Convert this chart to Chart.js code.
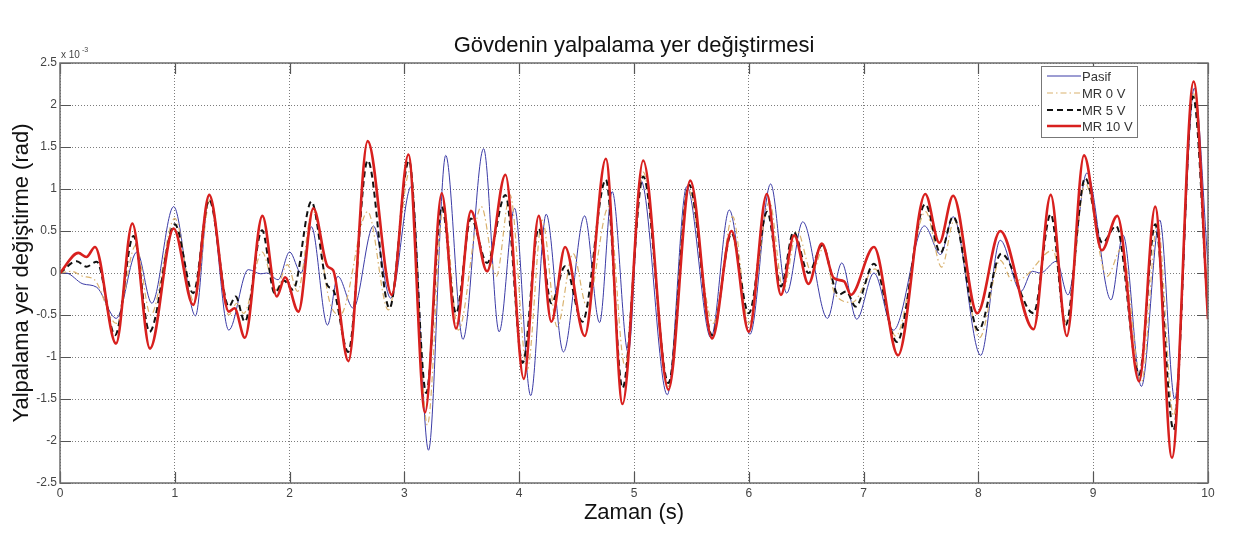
<!DOCTYPE html>
<html><head><meta charset="utf-8">
<script src="https://cdn.jsdelivr.net/npm/chart.js@4/dist/chart.umd.min.js"></script>
<style>html,body{margin:0;padding:0;background:#fff}canvas{display:block}</style>
</head><body>
<canvas id="c" width="1239" height="533"></canvas>
<script>
// values in units of 1e-3 rad
const titleText = 'Gövdenin yalpalama yer değiştirmesi';
const xLabel = 'Zaman (s)';
const yLabel = 'Yalpalama yer değiştirme (rad)';
const seriesNames = ['Pasif', 'MR 0 V', 'MR 5 V', 'MR 10 V'];
const xTicks = [0,1,2,3,4,5,6,7,8,9,10];
const yTicks = [-2.5,-2,-1.5,-1,-0.5,0,0.5,1,1.5,2,2.5];

const pasifT = [0,0.05,0.2,0.32,0.49,0.67,0.80,0.99,1.18,1.30,1.47,1.64,1.75,1.80,1.9,2.0,2.1,2.19,2.33,2.42,2.555,2.73,2.88,3.06,3.21,3.36,3.51,3.69,3.825,3.96,4.10,4.235,4.385,4.57,4.70,4.81,4.95,5.06,5.29,5.46,5.67,5.83,6.01,6.19,6.33,6.47,6.685,6.81,6.94,7.09,7.26,7.53,7.67,7.78,8.02,8.19,8.37,8.47,8.54,8.68,8.78,8.945,9.155,9.26,9.42,9.58,9.71,9.88,10.0];
const pasifY = [0,0,-0.13,-0.17,-0.54,0.25,-0.36,0.79,-0.51,0.93,-0.68,0.04,-0.01,0.0,-0.08,0.25,0.0,0.55,-0.62,-0.04,-0.42,0.56,-0.3,1.03,-2.11,1.40,-0.79,1.48,-0.70,0.77,-1.46,0.70,-0.94,0.68,-0.59,0.97,-0.95,1.1,-1.45,1.03,-0.77,0.75,-0.73,1.06,-0.24,0.61,-0.54,0.12,-0.55,0.0,-0.68,0.56,0.22,0.67,-0.98,0.39,-0.22,0.02,0.0,0.14,-0.26,1.19,-0.32,0.45,-1.35,0.63,-1.50,2.20,0.1];

const mr0T = [0,0.1,0.2,0.3,0.49,0.66,0.79,1.0,1.17,1.31,1.47,1.54,1.60,1.76,1.88,1.98,2.07,2.2,2.35,2.44,2.68,2.86,3.05,3.20,3.34,3.47,3.67,3.80,3.92,4.07,4.2,4.33,4.47,4.59,4.78,4.92,5.08,5.30,5.47,5.69,5.86,6.0,6.18,6.3,6.42,6.55,6.65,6.75,6.9,7.1,7.28,7.54,7.68,7.79,8.01,8.19,8.3,8.4,8.65,8.77,8.93,9.12,9.25,9.42,9.56,9.70,9.87,10.0];
const mr0Y = [0,0.02,-0.04,-0.08,-0.6,0.33,-0.5,0.65,-0.35,0.88,-0.5,-0.36,-0.48,0.25,-0.2,0.1,-0.22,0.75,-0.35,-0.5,0.73,-0.44,1.22,-1.81,0.79,-0.68,0.79,-0.04,0.93,-1.15,0.63,-0.64,0.23,-0.4,0.79,-1.1,1.2,-1.35,1.0,-0.6,0.67,-0.6,0.85,-0.2,0.5,0.0,0.3,-0.25,-0.35,0.05,-0.75,0.73,0.07,0.63,-0.77,0.15,-0.1,-0.05,0.27,-0.6,1.07,-0.04,0.3,-1.3,0.6,-1.7,2.15,-0.3];

const mr5T = [0,0.145,0.23,0.32,0.48,0.64,0.78,1.0,1.16,1.30,1.47,1.53,1.61,1.76,1.87,1.95,2.03,2.19,2.33,2.38,2.51,2.68,2.87,3.04,3.19,3.325,3.45,3.58,3.72,3.88,4.03,4.17,4.28,4.40,4.55,4.755,4.90,5.08,5.30,5.48,5.68,5.85,6.0,6.16,6.28,6.39,6.52,6.64,6.78,6.85,6.93,7.09,7.29,7.537,7.67,7.78,8.0,8.2,8.48,8.63,8.76,8.93,9.08,9.2,9.40,9.54,9.70,9.87,10.0];
const mr5Y = [0,0.14,0.075,0.135,-0.74,0.44,-0.70,0.58,-0.24,0.87,-0.40,-0.28,-0.58,0.51,-0.24,-0.09,-0.2,0.85,-0.15,-0.2,-0.94,1.34,-0.42,1.34,-1.43,0.79,-0.48,0.65,0.12,0.93,-1.07,0.53,-0.36,0.08,-0.58,1.11,-1.37,1.15,-1.31,1.05,-0.74,0.47,-0.48,0.73,-0.16,0.49,0.0,0.33,-0.26,-0.22,-0.40,0.11,-0.82,0.82,0.24,0.67,-0.68,0.23,-0.48,0.70,-0.62,1.13,0.36,0.56,-1.21,0.58,-1.87,2.10,-0.5];

const mr10T = [0,0.16,0.23,0.305,0.488,0.63,0.784,0.99,1.16,1.30,1.47,1.52,1.61,1.763,1.888,1.96,2.077,2.207,2.33,2.38,2.512,2.68,2.89,3.035,3.18,3.325,3.45,3.58,3.72,3.88,4.04,4.17,4.28,4.40,4.57,4.755,4.90,5.08,5.30,5.49,5.68,5.85,6.0,6.157,6.28,6.395,6.52,6.636,6.74,6.83,6.89,7.09,7.30,7.537,7.66,7.78,7.99,8.19,8.48,8.63,8.77,8.92,9.075,9.21,9.40,9.54,9.686,9.875,10.0];
const mr10Y = [0,0.24,0.19,0.31,-0.84,0.59,-0.90,0.53,-0.38,0.93,-0.46,-0.42,-0.77,0.68,-0.28,-0.05,-0.46,0.77,0.08,0.03,-1.05,1.57,-0.26,1.41,-1.66,0.95,-0.66,0.74,0.02,1.17,-1.26,0.68,-0.58,0.31,-0.75,1.36,-1.56,1.34,-1.39,1.10,-0.78,0.50,-0.70,0.94,-0.26,0.45,-0.13,0.35,-0.06,-0.10,-0.26,0.31,-0.98,0.94,0.36,0.92,-0.48,0.50,-0.67,0.93,-0.75,1.40,0.27,0.68,-1.29,0.79,-2.20,2.28,-0.55];

const pts = (t, y) => t.map((v, i) => ({x: v, y: y[i]}));
const FONT = '"Liberation Sans", Arial, sans-serif';

const frame = {
  id: 'frame',
  beforeDatasetsDraw(chart) {
    const ctx = chart.ctx, a = chart.chartArea;
    const xs = chart.scales.x, ys = chart.scales.y;
    ctx.save();
    ctx.strokeStyle = '#555';
    ctx.lineWidth = 1.2;
    const L = 11;
    ctx.beginPath();
    xTicks.forEach(v => {
      const px = Math.round(xs.getPixelForValue(v)) + 0.5;
      ctx.moveTo(px, a.bottom); ctx.lineTo(px, a.bottom - L);
      ctx.moveTo(px, a.top); ctx.lineTo(px, a.top + L);
    });
    yTicks.forEach(v => {
      const py = Math.round(ys.getPixelForValue(v)) + 0.5;
      ctx.moveTo(a.left, py); ctx.lineTo(a.left + L, py);
      ctx.moveTo(a.right, py); ctx.lineTo(a.right - L, py);
    });
    ctx.stroke();
    ctx.restore();
  },
  afterDatasetsDraw(chart) {
    const ctx = chart.ctx, a = chart.chartArea;
    ctx.save();
    // box
    ctx.strokeStyle = '#6e6e6e';
    ctx.lineWidth = 1.5;
    ctx.strokeRect(a.left, a.top, a.right - a.left, a.bottom - a.top);
    // title
    ctx.fillStyle = '#111';
    ctx.textAlign = 'center';
    ctx.textBaseline = 'middle';
    ctx.font = '22px ' + FONT;
    ctx.fillText(titleText, (a.left + a.right) / 2, 46);
    // x label
    ctx.font = '22px ' + FONT;
    ctx.fillText(xLabel, (a.left + a.right) / 2, 513);
    // y label
    ctx.save();
    ctx.translate(22, (a.top + a.bottom) / 2);
    ctx.rotate(-Math.PI / 2);
    ctx.fillText(yLabel, 0, 0);
    ctx.restore();
    // exponent
    ctx.fillStyle = '#444';
    ctx.textAlign = 'left';
    ctx.font = '10px ' + FONT;
    ctx.fillText('x 10', 61, 55);
    ctx.font = '7px ' + FONT;
    ctx.fillText('-3', 82, 50);
    // legend
    const lx = 1041, ly = 66, lw = 96, lh = 71;
    ctx.fillStyle = '#fff';
    ctx.fillRect(lx, ly, lw, lh);
    ctx.strokeStyle = '#777';
    ctx.lineWidth = 1;
    ctx.strokeRect(lx + 0.5, ly + 0.5, lw, lh);
    const rows = [76, 93, 110, 126];
    chart.data.datasets.forEach((ds, i) => {
      const y = rows[i];
      ctx.save();
      ctx.strokeStyle = ds.borderColor;
      ctx.lineWidth = ds.borderWidth;
      ctx.setLineDash(ds.borderDash || []);
      ctx.beginPath();
      ctx.moveTo(1047, y); ctx.lineTo(1081, y);
      ctx.stroke();
      ctx.restore();
      ctx.fillStyle = '#333';
      ctx.font = '13px ' + FONT;
      ctx.textBaseline = 'middle';
      ctx.fillText(ds.label, 1082, y + 1);
    });
    ctx.restore();
  }
};

new Chart(document.getElementById('c'), {
  type: 'line',
  data: {
    datasets: [
      {label: seriesNames[0], data: pts(pasifT, pasifY), borderColor: '#3b3ba6', borderWidth: 1, order: 3},
      {label: seriesNames[1], data: pts(mr0T, mr0Y), borderColor: '#d9b26e', borderWidth: 1.2, borderDash: [6,3,1.5,3], order: 2},
      {label: seriesNames[2], data: pts(mr5T, mr5Y), borderColor: '#111', borderWidth: 2, borderDash: [6,4], order: 1},
      {label: seriesNames[3], data: pts(mr10T, mr10Y), borderColor: '#d8201e', borderWidth: 2.6, order: 0}
    ]
  },
  options: {
    responsive: false,
    animation: false,
    devicePixelRatio: 1,
    parsing: true,
    elements: {point: {radius: 0}, line: {cubicInterpolationMode: 'monotone', fill: false}},
    layout: {padding: {top: 63, right: 31, bottom: 0, left: 0}},
    plugins: {legend: {display: false}, title: {display: false}, tooltip: {enabled: false}},
    scales: {
      x: {
        type: 'linear', min: 0, max: 10,
        afterFit(s) { s.height = 50; },
        afterBuildTicks(s) { s.ticks = xTicks.map(v => ({value: v})); },
        ticks: {color: '#444', font: {family: FONT, size: 12}, padding: 3, maxRotation: 0, callback: v => String(v)},
        grid: {color: 'rgba(110,110,110,0.9)', lineWidth: 1, drawTicks: false},
        border: {display: false, dash: [1, 2]}
      },
      y: {
        type: 'linear', min: -2.5, max: 2.5,
        afterFit(s) { s.width = 60; },
        afterBuildTicks(s) { s.ticks = yTicks.map(v => ({value: v})); },
        ticks: {color: '#444', font: {family: FONT, size: 12}, padding: 3, callback: v => String(v)},
        grid: {color: 'rgba(110,110,110,0.9)', lineWidth: 1, drawTicks: false},
        border: {display: false, dash: [1, 2]}
      }
    }
  },
  plugins: [frame]
});
</script>
</body></html>
